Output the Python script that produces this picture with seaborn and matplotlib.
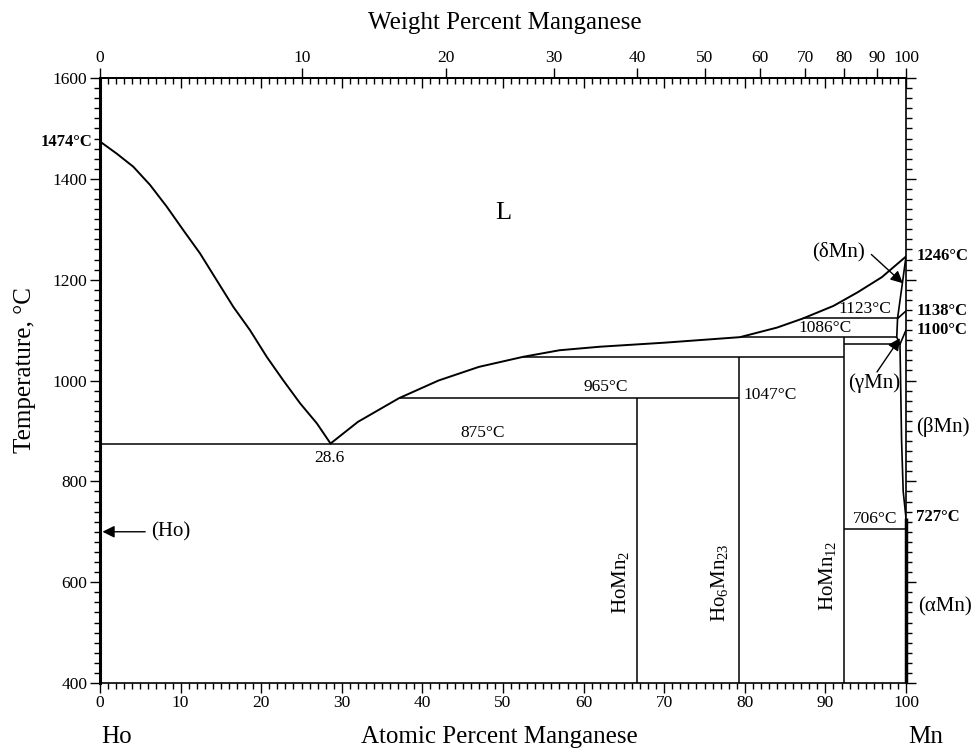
import numpy as np
import seaborn as sns
import matplotlib.pyplot as plt
from matplotlib.ticker import MultipleLocator

# liquidus, Ho-rich side (at.% Mn, deg C)
liq_left_x = [0, 2.07, 4.13, 6.2, 8.27, 10.34, 12.41, 14.47, 16.54, 18.6, 20.68, 22.7, 24.81, 26.9, 28.6]
liq_left_t = [1474, 1450, 1424, 1388, 1345, 1298, 1252, 1199, 1146, 1100, 1047, 1001, 955, 915, 875]

# liquidus, Mn-rich side
liq_right_x = [28.6, 32, 37.1, 42, 47, 52.5, 57, 62, 70, 79.4, 84, 87.2, 91, 94, 97, 100]
liq_right_t = [875, 918, 965, 1000, 1027, 1047, 1060, 1067, 1075, 1086, 1105, 1123, 1148, 1175, 1205, 1246]

# invariant horizontals
inv_t = [875, 965, 1047, 1086, 1123, 1072, 706]
inv_x0 = [0, 37.1, 52.5, 79.4, 87.2, 92.31, 92.31]
inv_x1 = [66.67, 79.31, 92.31, 98.85, 98.95, 99.25, 100]

# compounds
comp_x = [66.67, 79.31, 92.31]
comp_top = [965, 1047, 1086]
comp_names = ['HoMn$_2$', 'Ho$_6$Mn$_{23}$', 'HoMn$_{12}$']
comp_lab_x = [64.6, 76.9, 90.2]
comp_lab_t = [600, 600, 612]

# Mn-side boundaries
delta_x = [100, 98.95, 98.85, 99.25]
delta_t = [1246, 1123, 1086, 1072]
dg_x = [98.95, 100]
dg_t = [1123, 1138]
gb_x = [99.25, 100]
gb_t = [1072, 1100]
beta_x = [99.25, 99.45, 99.65, 100]
beta_t = [1072, 880, 780, 727]

# temperature labels on lines
line_lab = ['875°C', '965°C', '1047°C', '1086°C', '1123°C', '706°C', '28.6']
line_lab_x = [47.5, 62.7, 83.2, 90.0, 94.9, 96.2, 28.5]
line_lab_t = [895, 987, 971, 1104, 1142, 725, 847]

# bold melting / transformation points
bold_lab = ['1246°C', '1138°C', '1100°C', '727°C']
bold_t = [1246, 1138, 1100, 729]

wt_ticks = list(range(0, 101, 10))

M_MN = 54.938
M_HO = 164.93


def at_to_wt(x):
    x = np.asarray(x, dtype=float)
    with np.errstate(divide='ignore', invalid='ignore'):
        return 100 * x * M_MN / (x * M_MN + (100 - x) * M_HO)


def wt_to_at(w):
    w = np.asarray(w, dtype=float)
    with np.errstate(divide='ignore', invalid='ignore'):
        return 100 * (w / M_MN) / (w / M_MN + (100 - w) / M_HO)


sns.set_theme(style='ticks', rc={'axes.edgecolor': 'black', 'xtick.color': 'black',
                                 'ytick.color': 'black', 'text.color': 'black'})
plt.rcParams['font.family'] = ['Liberation Serif', 'DejaVu Serif']
plt.rcParams['mathtext.fontset'] = 'custom'
plt.rcParams['mathtext.rm'] = 'Liberation Serif'
plt.rcParams['mathtext.it'] = 'Liberation Serif'

fig = plt.figure(figsize=(9.76, 7.48), dpi=100)
ax = fig.add_axes([0.1025, 0.0869, 0.8258, 0.8088])
ax.set_xlim(0, 100)
ax.set_ylim(400, 1600)

lw = 1.4
sns.lineplot(x=liq_left_x, y=liq_left_t, sort=False, estimator=None, color='black', linewidth=lw, ax=ax)
sns.lineplot(x=liq_right_x, y=liq_right_t, sort=False, estimator=None, color='black', linewidth=lw, ax=ax)
for xs, ts in [(delta_x, delta_t), (dg_x, dg_t), (gb_x, gb_t), (beta_x, beta_t)]:
    sns.lineplot(x=xs, y=ts, sort=False, estimator=None, color='black', linewidth=1.2, ax=ax)
ax.hlines(inv_t, inv_x0, inv_x1, color='black', linewidth=1.1)
ax.vlines(comp_x, 400, comp_top, color='black', linewidth=1.1)
ax.vlines([100], 400, 727, color='black', linewidth=2.5, clip_on=False)

for name, x, t in zip(comp_names, comp_lab_x, comp_lab_t):
    ax.text(x, t, name, rotation=90, ha='center', va='center', fontsize=15)
for s, x, t in zip(line_lab, line_lab_x, line_lab_t):
    ax.text(x, t, s, ha='center', va='center', fontsize=12.5)
for s, t in zip(bold_lab, bold_t):
    ax.text(101.3, t, s, ha='left', va='center', fontsize=12, fontweight='bold')
ax.text(-1.0, 1474, '1474°C', ha='right', va='center', fontsize=12, fontweight='bold')

ax.text(50, 1332, 'L', ha='center', va='center', fontsize=19)
ax.text(91.6, 1255, '(δMn)', ha='center', va='center', fontsize=15)
ax.text(96.0, 995, '(γMn)', ha='center', va='center', fontsize=15)
ax.text(104.6, 908, '(βMn)', ha='center', va='center', fontsize=15)
ax.text(104.8, 551, '(αMn)', ha='center', va='center', fontsize=15)
ax.text(6.3, 700, '(Ho)', ha='left', va='center', fontsize=15)

arrow = dict(arrowstyle='-|>', color='black', lw=1.0, mutation_scale=18, shrinkA=0, shrinkB=0)
ax.annotate('', xy=(99.6, 1193), xytext=(95.7, 1250), arrowprops=arrow)
ax.annotate('', xy=(99.25, 1084), xytext=(96.4, 1017), arrowprops=arrow)
ax.annotate('', xy=(0.3, 700), xytext=(5.6, 700), arrowprops=arrow)

# axes and ticks
ax.set_xticks(range(0, 101, 10))
ax.xaxis.set_minor_locator(MultipleLocator(1))
ax.set_yticks(range(400, 1601, 200))
ax.yaxis.set_minor_locator(MultipleLocator(20))
ax.tick_params(axis='x', which='major', direction='out', length=7, width=1, labelsize=12.5, pad=2)
ax.tick_params(axis='x', which='minor', direction='out', length=4, width=1)
ax.tick_params(axis='y', which='major', direction='out', length=7, width=1, labelsize=12.5,
               right=True, pad=2)
ax.tick_params(axis='y', which='minor', direction='out', length=4, width=1, right=True)
for side in ['top', 'bottom', 'right']:
    ax.spines[side].set_linewidth(1.2)
ax.spines['left'].set_linewidth(2.2)

top_at = ax.secondary_xaxis('top')
top_at.set_xticks(range(0, 101, 10))
top_at.xaxis.set_minor_locator(MultipleLocator(1))
top_at.tick_params(which='major', direction='in', length=7, width=1, labeltop=False)
top_at.tick_params(which='minor', direction='in', length=4, width=1)
top_at.spines['top'].set_linewidth(1.2)

top_wt = ax.secondary_xaxis('top', functions=(at_to_wt, wt_to_at))
top_wt.set_xticks(wt_ticks)
top_wt.xaxis.set_minor_locator(plt.NullLocator())
top_wt.tick_params(which='major', direction='out', length=7, width=1, labelsize=12.5, pad=2)
top_wt.spines['top'].set_linewidth(1.2)

fig.text(0.517, 0.969, 'Weight Percent Manganese', ha='center', va='center', fontsize=18)
fig.text(0.512, 0.0147, 'Atomic Percent Manganese', ha='center', va='center', fontsize=18)
fig.text(0.119, 0.0147, 'Ho', ha='center', va='center', fontsize=18)
fig.text(0.948, 0.0147, 'Mn', ha='center', va='center', fontsize=18)
fig.text(0.026, 0.505, 'Temperature, °C', rotation=90, ha='center', va='center', fontsize=18)

fig.savefig('out.png', dpi=100)
